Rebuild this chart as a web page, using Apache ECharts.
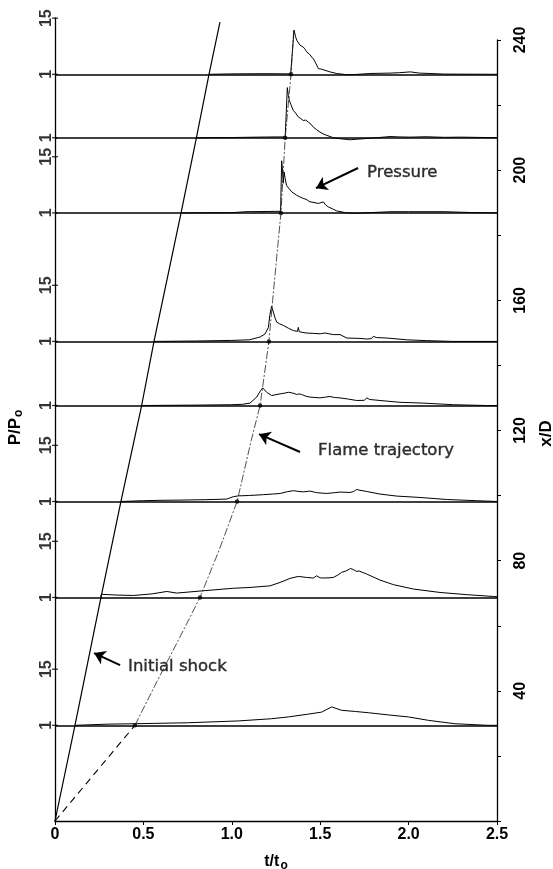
<!DOCTYPE html>
<html>
<head>
<meta charset="utf-8">
<script src="https://cdn.jsdelivr.net/npm/echarts@6/dist/echarts.min.js"></script>
<style>
  html, body { margin: 0; padding: 0; background: #fff; }
  #chart { width: 553px; height: 869px; }
</style>
</head>
<body>
<div id="chart"></div>
<script>
// Transducer stations along the tube (x/D), bottom to top
const stations = [29.4, 68.7, 98.2, 127.7, 147.4, 186.9, 210, 229.5];
// Stations whose local P/Po scale carries a "15" mark
const scaleMarked = [true, true, true, false, true, true, false, true];
// Arrival time (t/to) of the initial shock and of the flame at each station
const shockArrival = [0.113, 0.26, 0.373, 0.49, 0.56, 0.713, 0.80, 0.871];
const flameArrival = [0.452, 0.82, 1.03, 1.16, 1.21, 1.278, 1.302, 1.335];
// Initial shock path continued above the last station
const shockEnd = [0.933, 245.5];
// Flame trajectory [t/to, x/D]: early (dashed) part and later path
const flameEarly = [[0, 0], [0.452, 29.4]];
const flameLate = [[0.452, 29.4], [0.575, 42.7], [0.698, 55.6], [0.82, 68.7], [0.93, 83.5],
  [1.03, 98.2], [1.11, 117], [1.16, 127.7], [1.21, 147.4], [1.231, 160], [1.26, 176.7],
  [1.278, 186.9], [1.302, 210], [1.335, 229.5], [1.35, 243]];

// Pressure histories [t/to, P/Po], one per station (bottom to top)
const pStation1 = [[0.113, 1], [0.115, 1.25], [0.3, 1.3], [0.452, 1.4], [0.754, 1.65], [1.037, 2.1],
  [1.225, 2.65], [1.32, 3.1], [1.433, 3.8], [1.508, 4.3], [1.565, 5.6], [1.621, 4.75], [1.7, 4.45],
  [1.772, 4.15], [1.885, 3.6], [1.999, 3.1], [2.112, 2.25], [2.262, 1.4], [2.45, 1.0], [2.5, 1.0]];
const pStation2 = [[0.26, 1], [0.262, 1.8], [0.35, 1.6], [0.443, 1.5], [0.55, 1.9], [0.632, 2.5],
  [0.688, 2.1], [0.82, 2.6], [1.009, 3.3], [1.103, 3.5], [1.216, 3.9], [1.273, 4.75], [1.329, 5.75],
  [1.376, 6.25], [1.423, 6.0], [1.461, 5.85], [1.48, 6.4], [1.5, 5.9], [1.518, 5.85], [1.55, 5.9],
  [1.574, 6.0], [1.6, 6.6], [1.621, 7.25], [1.65, 7.7], [1.672, 8.25], [1.69, 7.9], [1.706, 7.5],
  [1.72, 7.6], [1.763, 6.85], [1.838, 5.35], [1.914, 4.2], [2.027, 3.1], [2.178, 2.25],
  [2.329, 1.7], [2.48, 1.25], [2.5, 1.2]];
const pStation3 = [[0.373, 1], [0.5, 1.2], [0.6, 1.3], [0.707, 1.35], [0.85, 1.45], [0.971, 1.6],
  [1.009, 2.2], [1.037, 2.4], [1.1, 2.5], [1.178, 2.7], [1.23, 2.85], [1.273, 3.0], [1.31, 3.4],
  [1.348, 3.7], [1.38, 3.5], [1.404, 3.4], [1.425, 3.5], [1.435, 3.8], [1.442, 3.6], [1.48, 3.2],
  [1.537, 3.0], [1.58, 3.2], [1.612, 3.35], [1.669, 3.25], [1.69, 3.5], [1.706, 4.0], [1.725, 3.8],
  [1.763, 3.5], [1.838, 2.85], [1.933, 2.35], [2.065, 2.0], [2.215, 1.5], [2.385, 1.2], [2.5, 1.0]];
const pStation4 = [[0.49, 1], [0.8, 1.1], [1.0, 1.2], [1.06, 1.3], [1.103, 1.6], [1.141, 3.1],
  [1.163, 4.75], [1.175, 5.4], [1.185, 4.9], [1.197, 4.3], [1.225, 3.5], [1.25, 3.7], [1.273, 3.9],
  [1.3, 4.1], [1.32, 4.3], [1.345, 4.1], [1.367, 3.75], [1.38, 3.9], [1.395, 3.75], [1.42, 3.3],
  [1.442, 3.1], [1.47, 3.0], [1.499, 2.9], [1.53, 3.1], [1.555, 3.25], [1.58, 3.0], [1.612, 2.9],
  [1.66, 2.6], [1.706, 2.25], [1.75, 2.3], [1.763, 2.9], [1.78, 2.5], [1.838, 2.25], [1.951, 1.8],
  [2.083, 1.6], [2.253, 1.2], [2.44, 1.0], [2.5, 1.0]];
const pStation5 = [[0.56, 1], [0.8, 1.1], [1.0, 1.25], [1.1, 1.4], [1.16, 2.1], [1.188, 2.85],
  [1.207, 4.5], [1.215, 7.5], [1.225, 9.8], [1.235, 8.3], [1.245, 6.8], [1.254, 5.8], [1.27, 5.4],
  [1.291, 5.0], [1.32, 4.3], [1.348, 3.7], [1.372, 3.5], [1.376, 4.5], [1.382, 3.4], [1.42, 3.1],
  [1.461, 3.0], [1.5, 2.9], [1.527, 3.1], [1.55, 2.9], [1.574, 2.7], [1.612, 2.7], [1.65, 1.85],
  [1.72, 1.75], [1.763, 1.6], [1.79, 1.7], [1.8, 2.25], [1.82, 1.95], [1.876, 1.85], [1.989, 1.4],
  [2.1, 1.2], [2.25, 1.0], [2.5, 1.0]];
const pStation6 = [[0.713, 1], [1.0, 1.05], [1.08, 1.3], [1.2, 1.35], [1.276, 1.4], [1.282, 14.0],
  [1.287, 11.5], [1.291, 8.4], [1.296, 11.2], [1.302, 9.5], [1.31, 7.8], [1.32, 7.5], [1.339, 6.25],
  [1.367, 5.4], [1.385, 5.0], [1.404, 4.6], [1.42, 4.4], [1.442, 3.75], [1.465, 3.6], [1.49, 3.35],
  [1.518, 3.75], [1.53, 3.0], [1.546, 2.5], [1.57, 2.0], [1.593, 1.5], [1.65, 1.0], [1.7, 0.9],
  [1.8, 1.1], [1.9, 1.3], [2.0, 1.3], [2.2, 1.3], [2.35, 1.1], [2.5, 1.0]];
const pStation7 = [[0.80, 1], [1.0, 1.05], [1.15, 1.15], [1.25, 1.2], [1.302, 1.2], [1.314, 13.5],
  [1.32, 11.5], [1.326, 10.3], [1.335, 9.2], [1.348, 7.8], [1.36, 7.2], [1.376, 6.2], [1.39, 5.8],
  [1.404, 5.3], [1.418, 5.4], [1.433, 4.9], [1.447, 4.4], [1.461, 3.65], [1.48, 3.0], [1.499, 2.4],
  [1.52, 1.9], [1.537, 1.6], [1.574, 1.0], [1.62, 0.7], [1.669, 0.5], [1.744, 0.75], [1.82, 1.0],
  [1.895, 1.3], [1.95, 1.2], [2.008, 1.15], [2.1, 1.25], [2.2, 1.1], [2.3, 1.15], [2.5, 1.0]];
const pStation8 = [[0.871, 1], [1.0, 1.1], [1.2, 1.15], [1.333, 1.1], [1.352, 12], [1.36, 10.5],
  [1.367, 9.5], [1.375, 9.8], [1.386, 8.25], [1.395, 8.4], [1.404, 7.8], [1.415, 7.2], [1.423, 6.6],
  [1.44, 6.0], [1.452, 5.3], [1.462, 4.8], [1.471, 4.1], [1.49, 2.4], [1.505, 2.3], [1.527, 2.0],
  [1.555, 1.6], [1.593, 1.2], [1.65, 0.9], [1.7, 0.95], [1.78, 1.2], [1.9, 1.3], [1.95, 1.4],
  [2.01, 1.6], [2.06, 1.3], [2.12, 1.2], [2.2, 1.05], [2.5, 1.0]];
const pressureTraces = [pStation1, pStation2, pStation3, pStation4, pStation5, pStation6, pStation7, pStation8];

// Local P/Po scale marks
const pMarks = [1, 15];

// Annotation texts with their label anchor and arrow (tail -> head) in [t/to, x/D]
const noteText = ['Pressure', 'Flame trajectory', 'Initial shock'];
const noteAnchor = [[1.765, 199.4], [1.488, 113.7], [0.413, 47.3]];
const noteTail = [[1.714, 200.7], [1.386, 113.4], [0.368, 47.9]];
const noteHead = [[1.476, 194.5], [1.154, 118.9], [0.221, 51.6]];

// Height of one unit of P/Po, in x/D units, for every station trace
const pUnit = 17.25 / 14;
const toPlot = (station) => ([t, p]) => [t, station + (p - 1) * pUnit];

const ink = '#000';
const boldFont = 'Liberation Sans, Arial, sans-serif';
const noteFont = 'DejaVu Sans, sans-serif';

const series = [];

// Reference line P/Po = 1 at every station
series.push({
  type: 'line', xAxisIndex: 0, yAxisIndex: 0, data: [], silent: true,
  markLine: {
    silent: true, symbol: ['none', 'none'], animation: false,
    label: { show: false },
    lineStyle: { color: ink, width: 1.5, type: 'solid' },
    data: stations.map(s => ({ yAxis: s }))
  }
});

// Pressure histories
pressureTraces.forEach((trace, i) => {
  series.push({
    type: 'line', xAxisIndex: 0, yAxisIndex: 0, showSymbol: false, silent: true, clip: false,
    lineStyle: { color: ink, width: 1 },
    data: trace.map(toPlot(stations[i]))
  });
});

// Initial shock trajectory
series.push({
  type: 'line', xAxisIndex: 0, yAxisIndex: 0, showSymbol: false, silent: true, clip: false,
  lineStyle: { color: ink, width: 1.2 },
  data: [[0, 0], ...stations.map((s, i) => [shockArrival[i], s]), shockEnd]
});

// Flame trajectory
series.push({
  type: 'line', xAxisIndex: 0, yAxisIndex: 0, showSymbol: false, silent: true,
  lineStyle: { color: ink, width: 1.1, type: [7, 5] },
  data: flameEarly
});
series.push({
  type: 'line', xAxisIndex: 0, yAxisIndex: 0, showSymbol: false, silent: true, clip: false,
  lineStyle: { color: '#222', width: 0.8, type: [8, 2, 2, 2] },
  data: flameLate
});
series.push({
  type: 'scatter', xAxisIndex: 0, yAxisIndex: 0, silent: true, symbolSize: 4.5,
  itemStyle: { color: ink },
  data: stations.map((s, i) => [flameArrival[i], s])
});

// P/Po scale marks on the left axis
const markData = [];
stations.forEach((s, i) => {
  markData.push({ value: [0, s], name: String(pMarks[0]) });
  if (scaleMarked[i]) markData.push({ value: [0, s + (pMarks[1] - pMarks[0]) * pUnit], name: String(pMarks[1]) });
});
series.push({
  type: 'scatter', xAxisIndex: 0, yAxisIndex: 0, silent: true, clip: false,
  symbol: 'rect', symbolSize: [6, 1.3],
  itemStyle: { color: ink },
  label: {
    show: true, position: 'left', distance: 5, rotate: 90,
    align: 'center', verticalAlign: 'middle',
    formatter: p => p.name,
    color: ink, fontFamily: boldFont, fontWeight: 'bold', fontSize: 16
  },
  data: markData
});

// Annotations
series.push({
  type: 'scatter', xAxisIndex: 0, yAxisIndex: 0, silent: true, symbolSize: 0,
  label: {
    show: true, position: 'right', distance: 0, formatter: p => p.name,
    color: ink, fontFamily: noteFont, fontSize: 16.5,
    textBorderColor: ink, textBorderWidth: 0.4
  },
  data: noteText.map((txt, i) => ({ value: noteAnchor[i], name: txt })),
  markLine: {
    silent: true, animation: false, symbol: ['none', 'arrow'], symbolSize: 11,
    label: { show: false },
    lineStyle: { color: ink, width: 2, type: 'solid' },
    data: noteText.map((_, i) => [{ coord: noteTail[i] }, { coord: noteHead[i] }])
  }
});

const option = {
  animation: false,
  backgroundColor: '#fff',
  grid: [
    { left: 55, right: 56, top: 18, bottom: 48, outerBoundsMode: 'none', containLabel: false },
    { left: 55, right: 56, top: 40, bottom: 48, outerBoundsMode: 'none', containLabel: false }
  ],
  xAxis: [
    {
      gridIndex: 0, type: 'value', min: 0, max: 2.5, interval: 0.5,
      axisLine: { show: true, onZero: false, lineStyle: { color: ink, width: 1.3 } },
      axisTick: { show: true, length: 4, lineStyle: { color: ink, width: 1 } },
      splitLine: { show: false },
      axisLabel: {
        color: ink, fontFamily: boldFont, fontWeight: 'bold', fontSize: 16, margin: 6,
        formatter: v => (v === 0 ? '0' : v.toFixed(1))
      },
      name: 't/t{s|o}', nameLocation: 'middle', nameGap: 31,
      nameTextStyle: {
        color: ink, fontFamily: boldFont, fontWeight: 'bold', fontSize: 16,
        rich: { s: { fontFamily: boldFont, fontWeight: 'bold', fontSize: 12, verticalAlign: 'bottom', padding: [8, 0, 0, 1] } }
      }
    },
    { gridIndex: 1, type: 'value', min: 0, max: 2.5, show: false }
  ],
  yAxis: [
    {
      gridIndex: 0, type: 'value', min: 0, max: 246.8,
      axisLine: { show: true, onZero: false, lineStyle: { color: ink, width: 1.3 } },
      axisTick: { show: false }, axisLabel: { show: false }, splitLine: { show: false },
      name: 'P/P{s|o}', nameLocation: 'middle', nameRotate: 90, nameGap: 30,
      nameTextStyle: {
        color: ink, fontFamily: boldFont, fontWeight: 'bold', fontSize: 17, padding: [0, 16, 0, 0],
        rich: { s: { fontFamily: boldFont, fontWeight: 'bold', fontSize: 12, padding: [8, 0, 0, 1] } }
      }
    },
    {
      gridIndex: 1, type: 'value', position: 'right', min: 0, max: 240, interval: 20,
      axisLine: { show: true, onZero: false, lineStyle: { color: ink, width: 1.3 } },
      axisTick: { show: true, length: 4, lineStyle: { color: ink, width: 1 } },
      splitLine: { show: false },
      axisLabel: {
        rotate: 90, margin: 16, color: ink, fontFamily: boldFont, fontWeight: 'bold', fontSize: 16,
        formatter: v => (v > 0 && v % 40 === 0 ? String(v) : '')
      },
      name: 'x/D', nameLocation: 'middle', nameRotate: 90, nameGap: 41,
      nameTextStyle: { color: ink, fontFamily: boldFont, fontWeight: 'bold', fontSize: 17, padding: [0, 6, 0, 0] }
    }
  ],
  series
};

const chart = echarts.init(document.getElementById('chart'), null, { renderer: 'canvas' });
chart.setOption(option);
</script>
</body>
</html>
